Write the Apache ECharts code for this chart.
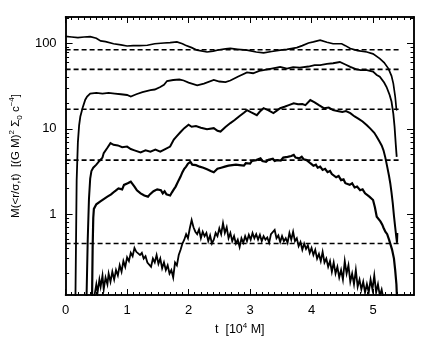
<!DOCTYPE html>
<html>
<head>
<meta charset="UTF-8">
<script src="https://cdn.jsdelivr.net/npm/echarts@6/dist/echarts.min.js"></script>
<style>
  html, body { margin: 0; padding: 0; background: #fff; }
  #main { width: 436px; height: 349px; }
</style>
</head>
<body>
<div id="main"></div>
<script>
// axis ranges / ticks
var xMin = 0, xMax = 5.666;
var yMin = 0.112, yMax = 206;
var xMajor = [0, 1, 2, 3, 4, 5];
var yMajor = [1, 10, 100];

// dashed reference levels
var dashLevels = [85, 50, 17, 4.3, 0.45];
var dashEnd = 5.42;

// curves [t, M]
var curveA = [[0,122],[0.1,120],[0.2,118],[0.3,120],[0.4,121],[0.5,116],[0.57,108],[0.65,106],[0.78,100],[0.9,97],[1.0,94],[1.1,95],[1.2,95],[1.33,96],[1.45,100],[1.6,102],[1.7,103],[1.81,105],[1.9,100],[1.95,96],[2.05,90],[2.14,84],[2.3,80],[2.4,82],[2.5,85],[2.6,87],[2.68,88],[2.8,86],[2.95,84],[3.1,80],[3.22,78],[3.35,81],[3.49,84],[3.6,86],[3.76,90],[3.85,95],[3.95,102],[4.03,105],[4.14,110],[4.25,104],[4.35,100],[4.49,100],[4.55,95],[4.63,88],[4.75,83],[4.9,80],[5.0,76],[5.11,67],[5.18,60],[5.25,51],[5.3,42],[5.33,34],[5.36,24],[5.38,17],[5.39,16.5]];

var curveB = [[0.16,0.1],[0.18,2.5],[0.2,7],[0.22,11],[0.24,14],[0.28,18],[0.32,22],[0.35,24],[0.4,26],[0.5,26.5],[0.6,26],[0.7,26.5],[0.8,26],[0.9,25.5],[1.0,25],[1.06,24],[1.15,25.5],[1.25,27],[1.38,28.5],[1.45,29],[1.54,31],[1.6,33],[1.65,36.5],[1.75,37.5],[1.85,38],[1.92,37],[2.0,35],[2.14,32.5],[2.25,34],[2.41,37.5],[2.5,36],[2.6,35.5],[2.68,37],[2.8,41],[2.95,46],[3.05,45],[3.15,48],[3.22,49],[3.35,51],[3.49,53.5],[3.6,51],[3.7,53],[3.81,52.5],[3.95,54],[4.05,56],[4.14,56],[4.25,58],[4.35,59],[4.46,61],[4.55,57],[4.63,53.5],[4.73,50],[4.8,49],[4.9,49],[5.0,47],[5.06,43],[5.11,41],[5.18,35],[5.22,31],[5.27,25],[5.3,21],[5.33,15],[5.35,10.6],[5.37,6.5],[5.38,5.2],[5.385,4.7]];

var curveC = [[0.34,0.1],[0.36,0.5],[0.38,1.5],[0.40,2.6],[0.42,3.2],[0.45,3.5],[0.5,3.8],[0.55,4.2],[0.6,4.6],[0.62,5.2],[0.68,6],[0.73,6.8],[0.78,6.5],[0.85,6.4],[0.92,6.1],[1.0,6.2],[1.06,5.8],[1.12,5.6],[1.22,5.3],[1.3,5.6],[1.38,5.4],[1.46,5.7],[1.54,5.4],[1.62,5.8],[1.7,6.2],[1.76,7.5],[1.82,8.4],[1.87,9.2],[1.93,10.2],[2.0,11.2],[2.05,10.6],[2.12,10.8],[2.2,10.3],[2.3,9.9],[2.41,10.2],[2.47,9.5],[2.52,9.3],[2.6,10.5],[2.68,11.7],[2.75,12.7],[2.82,14],[2.9,15.5],[2.95,16.6],[3.02,15.6],[3.11,14.5],[3.16,16],[3.22,17.5],[3.3,16.5],[3.38,15.3],[3.44,16.5],[3.49,17.5],[3.56,18.2],[3.63,19],[3.71,20],[3.78,19.5],[3.85,19.6],[3.9,19],[3.98,21.8],[4.05,20.5],[4.12,19],[4.2,17.5],[4.28,17.8],[4.35,16.6],[4.42,16.2],[4.5,15.8],[4.56,16.2],[4.63,15.3],[4.7,14],[4.76,13.2],[4.83,12.2],[4.9,11],[4.96,10],[5.02,9],[5.06,8.1],[5.1,7.2],[5.14,6.4],[5.17,5.6],[5.2,4.6],[5.23,3.6],[5.26,2.8],[5.28,2.3],[5.3,1.8],[5.32,1.35],[5.34,0.95],[5.36,0.7],[5.38,0.52],[5.39,0.46],[5.395,0.6]];

var curveD = [[0.43,0.1],[0.44,0.4],[0.45,0.9],[0.46,1.15],[0.48,1.2],[0.5,1.3],[0.53,1.25],[0.56,1.4],[0.59,1.35],[0.62,1.5],[0.65,1.45],[0.68,1.6],[0.71,1.55],[0.74,1.7],[0.77,1.65],[0.8,1.85],[0.83,1.8],[0.86,2.0],[0.89,2.1],[0.92,1.95],[0.95,2.2],[0.98,2.15],[1.01,2.3],[1.04,2.2],[1.06,2.4],[1.09,2.25],[1.12,2.1],[1.16,1.9],[1.19,1.95],[1.22,1.75],[1.25,1.8],[1.28,1.65],[1.31,1.7],[1.34,1.6],[1.37,1.7],[1.4,1.75],[1.43,1.85],[1.46,1.8],[1.49,1.95],[1.52,1.85],[1.55,1.9],[1.58,1.75],[1.61,1.85],[1.64,1.7],[1.67,1.75],[1.70,1.65],[1.73,1.8],[1.76,1.95],[1.79,2.1],[1.81,2.25],[1.84,2.5],[1.87,2.75],[1.9,3.1],[1.93,3.4],[1.96,3.6],[1.99,3.9],[2.03,4.1],[2.06,3.8],[2.09,4.0],[2.12,3.75],[2.15,3.8],[2.18,3.6],[2.21,3.7],[2.24,3.5],[2.27,3.55],[2.3,3.35],[2.33,3.4],[2.36,3.2],[2.39,3.3],[2.41,3.1],[2.44,3.25],[2.47,3.4],[2.5,3.3],[2.53,3.5],[2.56,3.45],[2.59,3.6],[2.62,3.55],[2.65,3.7],[2.68,3.55],[2.71,3.75],[2.74,3.6],[2.77,3.8],[2.8,3.65],[2.83,3.75],[2.86,3.9],[2.9,3.7],[2.93,3.95],[2.96,4.1],[3.0,3.9],[3.03,4.2],[3.06,4.0],[3.1,4.3],[3.13,4.15],[3.17,4.5],[3.2,4.2],[3.23,4.4],[3.26,4.1],[3.3,4.35],[3.33,4.15],[3.37,4.45],[3.4,4.2],[3.44,4.3],[3.47,4.5],[3.5,4.25],[3.54,4.6],[3.57,4.4],[3.61,4.7],[3.64,4.5],[3.67,4.8],[3.71,4.95],[3.74,4.6],[3.77,4.8],[3.8,4.5],[3.84,4.7],[3.87,4.4],[3.9,4.5],[3.92,4.3],[3.95,4.1],[3.98,3.95],[4.01,4.05],[4.03,3.7],[4.07,3.8],[4.1,3.5],[4.14,3.6],[4.18,3.3],[4.22,3.4],[4.26,3.1],[4.3,3.2],[4.33,2.95],[4.36,3.0],[4.4,2.7],[4.44,2.8],[4.48,2.5],[4.52,2.55],[4.55,2.3],[4.58,2.4],[4.62,2.2],[4.66,2.3],[4.7,2.05],[4.74,2.1],[4.79,1.9],[4.83,1.95],[4.87,1.75],[4.9,1.8],[4.94,1.6],[4.97,1.62],[5.0,1.46],[5.03,1.2],[5.06,0.93],[5.09,0.98],[5.12,0.82],[5.15,0.75],[5.17,0.69],[5.2,0.62],[5.23,0.58],[5.26,0.5],[5.28,0.45],[5.31,0.38],[5.34,0.3],[5.36,0.22],[5.38,0.15],[5.39,0.1]];

var curveE = [[0.46,0.1],[0.5,0.15],[0.52,0.12],[0.55,0.17],[0.57,0.14],[0.6,0.19],[0.62,0.13],[0.65,0.18],[0.68,0.15],[0.7,0.2],[0.73,0.16],[0.76,0.21],[0.79,0.17],[0.82,0.22],[0.85,0.19],[0.88,0.25],[0.91,0.21],[0.94,0.28],[0.97,0.24],[1.0,0.31],[1.03,0.28],[1.06,0.35],[1.09,0.32],[1.12,0.4],[1.15,0.36],[1.18,0.38],[1.21,0.33],[1.24,0.35],[1.27,0.3],[1.3,0.32],[1.33,0.27],[1.36,0.28],[1.39,0.24],[1.42,0.3],[1.45,0.27],[1.48,0.33],[1.51,0.26],[1.54,0.3],[1.57,0.23],[1.6,0.27],[1.63,0.22],[1.66,0.25],[1.69,0.2],[1.72,0.22],[1.75,0.18],[1.78,0.27],[1.81,0.25],[1.84,0.33],[1.87,0.38],[1.9,0.45],[1.93,0.5],[1.96,0.58],[1.99,0.52],[2.02,0.68],[2.05,0.85],[2.08,0.7],[2.11,0.62],[2.14,0.58],[2.17,0.66],[2.2,0.52],[2.23,0.62],[2.26,0.55],[2.29,0.6],[2.32,0.48],[2.35,0.56],[2.38,0.45],[2.41,0.5],[2.44,0.6],[2.47,0.55],[2.5,0.68],[2.53,0.58],[2.56,0.78],[2.59,0.6],[2.62,0.7],[2.65,0.52],[2.68,0.6],[2.71,0.48],[2.74,0.55],[2.77,0.45],[2.8,0.5],[2.83,0.41],[2.86,0.52],[2.89,0.46],[2.92,0.55],[2.95,0.48],[2.98,0.57],[3.01,0.5],[3.04,0.6],[3.07,0.52],[3.1,0.58],[3.13,0.5],[3.16,0.57],[3.19,0.48],[3.22,0.55],[3.25,0.5],[3.28,0.53],[3.31,0.46],[3.34,0.58],[3.37,0.55],[3.4,0.65],[3.43,0.52],[3.46,0.56],[3.49,0.47],[3.52,0.55],[3.55,0.48],[3.58,0.52],[3.61,0.46],[3.64,0.6],[3.67,0.5],[3.7,0.62],[3.73,0.48],[3.76,0.52],[3.79,0.42],[3.82,0.47],[3.85,0.38],[3.88,0.45],[3.91,0.39],[3.94,0.43],[3.97,0.35],[4.0,0.4],[4.03,0.33],[4.06,0.38],[4.09,0.3],[4.12,0.34],[4.15,0.28],[4.18,0.36],[4.21,0.27],[4.24,0.3],[4.27,0.24],[4.3,0.28],[4.33,0.21],[4.36,0.27],[4.39,0.2],[4.42,0.24],[4.45,0.18],[4.48,0.22],[4.51,0.17],[4.54,0.28],[4.57,0.2],[4.6,0.25],[4.63,0.16],[4.66,0.2],[4.69,0.15],[4.72,0.22],[4.75,0.14],[4.78,0.17],[4.81,0.13],[4.84,0.16],[4.87,0.12],[4.9,0.15],[4.93,0.12],[4.96,0.17],[4.99,0.13],[5.02,0.19],[5.05,0.12],[5.08,0.15],[5.11,0.11],[5.14,0.13],[5.17,0.1]];

var curves = [curveA, curveB, curveC, curveD, curveE];
var curveWidths = [1.7, 1.8, 2, 2.2, 1.8];

// minor tick positions
var xMinor = [];
for (var i = 1; i <= 56; i++) { if (i % 10) xMinor.push(i / 10); }
var yMinor = [];
[0.1, 1, 10, 100].forEach(function (d) {
    for (var k = 2; k <= 9; k++) {
        var v = +(d * k).toPrecision(3);
        if (v > yMin && v < yMax) yMinor.push(v);
    }
});

var chart = echarts.init(document.getElementById('main'));
var font = 'Liberation Sans, Arial, sans-serif';
var txt = { color: '#000', fontFamily: font, fontSize: 13 };
var line = { show: true, onZero: false, lineStyle: { color: '#000', width: 1.5 } };

function xAx(pos, ticks, len, labels) {
    return {
        type: 'value', position: pos, min: xMin, max: xMax,
        axisLine: line, splitLine: { show: false },
        axisTick: { inside: true, length: len, customValues: ticks, lineStyle: { color: '#000', width: 1 } },
        axisLabel: labels ? Object.assign({ customValues: xMajor, margin: 9 }, txt) : { show: false }
    };
}
function yAx(pos, ticks, len, labels) {
    return {
        type: 'log', logBase: 10, position: pos, min: yMin, max: yMax,
        axisLine: line, splitLine: { show: false },
        axisTick: { inside: true, length: len, customValues: ticks, lineStyle: { color: '#000', width: 1 } },
        axisLabel: labels ? Object.assign({ customValues: yMajor, margin: 9 }, txt) : { show: false }
    };
}

var xs = [xAx('bottom', xMajor, 6, true), xAx('bottom', xMinor, 3, false),
          xAx('top', xMajor, 6, false), xAx('top', xMinor, 3, false)];
xs[0].name = '{n|t  [10}{s|4}{n| M]}';
xs[0].nameLocation = 'middle';
xs[0].nameGap = 24;
xs[0].nameTextStyle = { rich: {
    n: { fontSize: 12.5, fontFamily: font, color: '#000', lineHeight: 14, verticalAlign: 'bottom' },
    s: { fontSize: 8, fontFamily: font, color: '#000', lineHeight: 14, verticalAlign: 'top' } } };

var ys = [yAx('left', yMajor, 7, true), yAx('left', yMinor, 3.5, false),
          yAx('right', yMajor, 7, false), yAx('right', yMinor, 3.5, false)];
ys[0].name = '{n|M(<r/σ,t)  [(G M)}{s|2}{n| Σ}{b|0}{n| c}{s|−4}{n|]}';
ys[0].nameLocation = 'middle';
ys[0].nameGap = 41;
ys[0].nameTextStyle = { rich: {
    n: { fontSize: 11.5, fontFamily: font, color: '#000', lineHeight: 16, verticalAlign: 'middle' },
    s: { fontSize: 8, fontFamily: font, color: '#000', lineHeight: 16, verticalAlign: 'top' },
    b: { fontSize: 8, fontFamily: font, color: '#000', lineHeight: 16, verticalAlign: 'bottom' } } };

var series = [];
dashLevels.forEach(function (lv) {
    series.push({
        type: 'line', symbol: 'none', silent: true,
        data: [[xMin, lv], [dashEnd, lv]],
        lineStyle: { color: '#000', width: 1.6, type: [5, 3] }
    });
});
curves.forEach(function (c, i) {
    series.push({
        type: 'line', symbol: 'none', silent: true, data: c,
        lineStyle: { color: '#000', width: curveWidths[i], join: 'miter' }
    });
});

chart.setOption({
    animation: false,
    grid: { left: 65, top: 17, width: 349, height: 278 },
    xAxis: xs,
    yAxis: ys,
    series: series
});
</script>
</body>
</html>
